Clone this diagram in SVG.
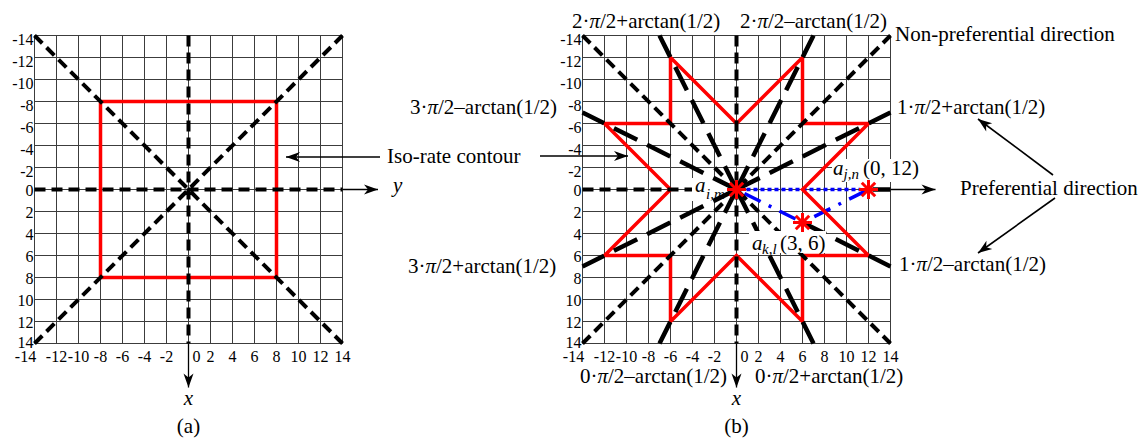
<svg xmlns="http://www.w3.org/2000/svg" width="1142" height="442" viewBox="0 0 1142 442">
<defs>
<style>
.g{fill:none;stroke:#3c3c3c;stroke-width:1}
.sd{fill:none;stroke:#000;stroke-width:4;stroke-dasharray:11 6}
.ld{fill:none;stroke:#000;stroke-width:4.5;stroke-dasharray:26 11}
.red{fill:none;stroke:#ff0000;stroke-width:3.5;stroke-linejoin:miter}
.thin{fill:none;stroke:#000;stroke-width:1.3}
.con{fill:none;stroke:#000;stroke-width:1.6}
.bl1{fill:none;stroke:#0000ff;stroke-width:3.5;stroke-dasharray:4 3}
.bl2{fill:none;stroke:#0000ff;stroke-width:3.5;stroke-dasharray:18 9 3 9}
.t{font-family:"Liberation Serif","Times New Roman",serif;font-size:21px;fill:#000}
.tk{font-family:"Liberation Serif","Times New Roman",serif;font-size:16px;fill:#000}
.i{font-style:italic}
.sub{font-size:15px;font-style:italic}
.bg{fill:#fff;stroke:none}
</style>
<marker id="ah" viewBox="-15 -6 16 12" refX="0" refY="0" markerWidth="16" markerHeight="12" markerUnits="userSpaceOnUse" orient="auto"><path d="M0,0L-14,-5L-10,0L-14,5Z" fill="#000"/></marker>
<g id="grid"><path class="g" d="M-154 -154v308M-132 -154v308M-110 -154v308M-88 -154v308M-66 -154v308M-44 -154v308M-22 -154v308M0 -154v308M22 -154v308M44 -154v308M66 -154v308M88 -154v308M110 -154v308M132 -154v308M154 -154v308M-154 -154h308M-154 -132h308M-154 -110h308M-154 -88h308M-154 -66h308M-154 -44h308M-154 -22h308M-154 0h308M-154 22h308M-154 44h308M-154 66h308M-154 88h308M-154 110h308M-154 132h308M-154 154h308"/></g>
<path id="ast" d="M-9.5,0H9.5M0,-9.5V9.5M-6.7,-6.7L6.7,6.7M-6.7,6.7L6.7,-6.7" stroke="#ff0000" stroke-width="3" fill="none"/>
</defs>
<rect width="1142" height="442" fill="#fff"/>

<!-- Panel (a) -->
<g id="panel-a" transform="translate(188.5,189.5)">
<use href="#grid"/>
<path class="red" d="M-88,-88H88V88H-88Z"/>
<path class="sd" d="M-154,-154L154,154M-154,154L154,-154M-154,0H154M0,-154V154"/>
<path class="thin" d="M154,0H189.5" marker-end="url(#ah)"/>
<path class="thin" d="M0,154V198" marker-end="url(#ah)"/>
<g class="tk" text-anchor="end">
<text x="-155" y="-145">-14</text><text x="-155" y="-123">-12</text><text x="-155" y="-101">-10</text><text x="-155" y="-79">-8</text><text x="-155" y="-57">-6</text><text x="-155" y="-35">-4</text><text x="-155" y="-13">-2</text><text x="-155" y="6">0</text><text x="-155" y="28">2</text><text x="-155" y="50">4</text><text x="-155" y="72">6</text><text x="-155" y="94">8</text><text x="-155" y="116">10</text><text x="-155" y="138">12</text><text x="-155" y="158">14</text>
</g>
<g class="tk" text-anchor="middle">
<text x="-163" y="172">-14</text><text x="-132" y="172">-12</text><text x="-110" y="172">-10</text><text x="-88" y="172">-8</text><text x="-66" y="172">-6</text><text x="-44" y="172">-4</text><text x="-22" y="172">-2</text><text x="8" y="172">0</text><text x="22" y="172">2</text><text x="44" y="172">4</text><text x="66" y="172">6</text><text x="88" y="172">8</text><text x="110" y="172">10</text><text x="132" y="172">12</text><text x="154" y="172">14</text>
</g>
</g>
<g id="labels-a">
<text class="t i" x="393" y="192" font-size="19">y</text>
<text class="t i" x="188.5" y="405" text-anchor="middle" font-size="19">x</text>
<text class="t" x="188.5" y="433" text-anchor="middle">(a)</text>
<text class="t" x="387" y="163">Iso-rate contour</text>
</g>

<!-- Panel (b) -->
<g id="panel-b" transform="translate(736.5,189.5)">
<use href="#grid"/>
<path class="bl1" d="M10,0H124"/>
<path class="bl2" d="M8,4L66,33L132,0"/>
<g id="label-ajn">
<rect class="bg" x="95.5" y="-30.5" width="88" height="23"/>
<text class="t i" x="96.5" y="-14.5">a</text>
<text class="t sub" x="107" y="-10.5">j,n</text>
<text class="t" x="126.5" y="-14.5">(0, 12)</text>
</g>
<path class="red" d="M66,-132V-66H132L66,0L132,66H66V132L0,66L-66,132V66H-132L-66,0L-132,-66H-66V-132L0,-66Z"/>
<path class="sd" d="M-154,-154L154,154M-154,154L154,-154M-154,0H0M0,-154V154"/>
<g id="label-aim">
<rect class="bg" x="-44.5" y="-11.5" width="39" height="23"/>
<text class="t i" x="-41.5" y="2.5">a</text>
<text class="t sub" x="-30.5" y="9.5">i,m</text>
</g>
<path class="ld" d="M0,0L154,-77M0,0L77,154M0,0L-77,154M0,0L-154,77M0,0L-154,-77M0,0L-77,-154M0,0L77,-154M66,33L154,77"/>
<g id="label-akl">
<rect class="bg" x="12.5" y="41.5" width="77" height="22"/>
<text class="t i" x="15.5" y="60.5">a</text>
<text class="t sub" x="25.5" y="64.5">k,l</text>
<text class="t" x="43.5" y="60.5">(3, 6)</text>
</g>
<path d="M136,0H154" stroke="#000" stroke-width="4.5" fill="none"/>
<use href="#ast"/>
<use href="#ast" x="132" y="0"/>
<use href="#ast" x="66" y="33"/>
<path class="thin" d="M154,0H199" marker-end="url(#ah)"/>
<path class="thin" d="M0,154V198" marker-end="url(#ah)"/>
<g class="tk" text-anchor="end">
<text x="-155" y="-145">-14</text><text x="-155" y="-123">-12</text><text x="-155" y="-101">-10</text><text x="-155" y="-79">-8</text><text x="-155" y="-57">-6</text><text x="-155" y="-35">-4</text><text x="-155" y="-13">-2</text><text x="-155" y="6">0</text><text x="-155" y="28">2</text><text x="-155" y="50">4</text><text x="-155" y="72">6</text><text x="-155" y="94">8</text><text x="-155" y="116">10</text><text x="-155" y="138">12</text><text x="-155" y="158">14</text>
</g>
<g class="tk" text-anchor="middle">
<text x="-163" y="172">-14</text><text x="-132" y="172">-12</text><text x="-110" y="172">-10</text><text x="-88" y="172">-8</text><text x="-66" y="172">-6</text><text x="-44" y="172">-4</text><text x="-22" y="172">-2</text><text x="8" y="172">0</text><text x="22" y="172">2</text><text x="44" y="172">4</text><text x="66" y="172">6</text><text x="88" y="172">8</text><text x="110" y="172">10</text><text x="132" y="172">12</text><text x="154" y="172">14</text>
</g>
</g>
<g id="labels-b">
<text class="t i" x="736.5" y="405" text-anchor="middle" font-size="19">x</text>
<text class="t" x="736.5" y="433" text-anchor="middle">(b)</text>
<text class="t" x="572" y="28">2&#183;<tspan class="i">π</tspan>/2+arctan(1/2)</text>
<text class="t" x="740" y="28">2&#183;<tspan class="i">π</tspan>/2&#8211;arctan(1/2)</text>
<text class="t" x="895" y="41">Non-preferential direction</text>
<text class="t" x="897" y="114">1&#183;<tspan class="i">π</tspan>/2+arctan(1/2)</text>
<text class="t" x="960" y="195">Preferential direction</text>
<text class="t" x="899" y="271">1&#183;<tspan class="i">π</tspan>/2&#8211;arctan(1/2)</text>
<text class="t" x="755" y="383">0&#183;<tspan class="i">π</tspan>/2+arctan(1/2)</text>
<text class="t" x="580" y="383">0&#183;<tspan class="i">π</tspan>/2&#8211;arctan(1/2)</text>
<text class="t" x="408" y="273">3&#183;<tspan class="i">π</tspan>/2+arctan(1/2)</text>
<text class="t" x="410" y="114">3&#183;<tspan class="i">π</tspan>/2&#8211;arctan(1/2)</text>
</g>

<g id="connectors">
<path class="con" d="M380,157H286" marker-end="url(#ah)"/>
<path class="con" d="M540,156H628" marker-end="url(#ah)"/>
<path class="con" d="M1053,175L978,119" marker-end="url(#ah)"/>
<path class="con" d="M1055,198L978,253" marker-end="url(#ah)"/>
</g>
</svg>
